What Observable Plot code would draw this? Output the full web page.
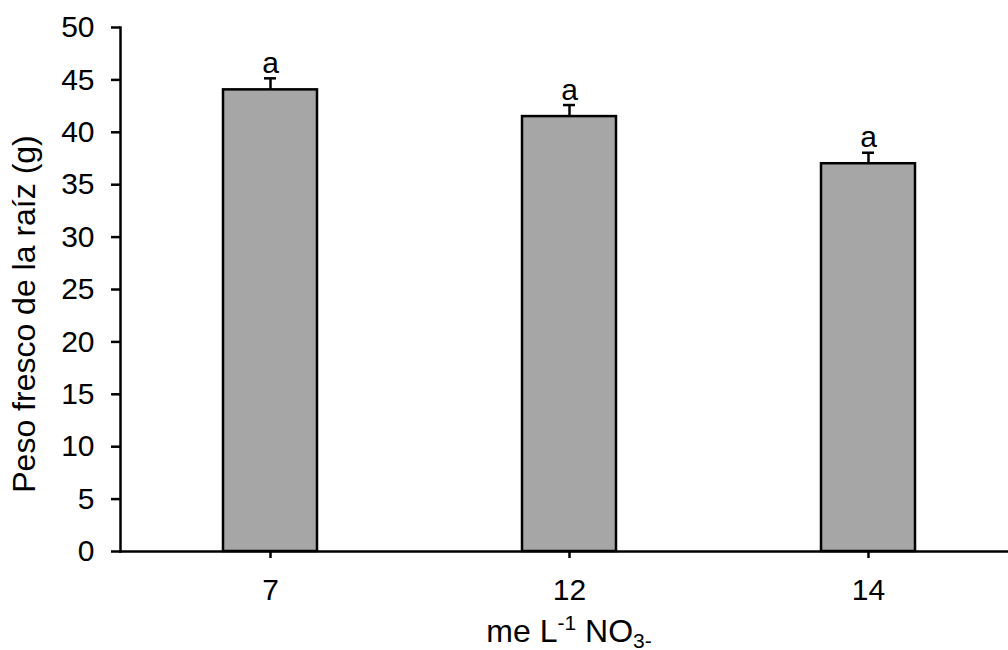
<!DOCTYPE html>
<html><head><meta charset="utf-8">
<script src="https://cdn.jsdelivr.net/npm/d3@7"></script>
<script src="https://cdn.jsdelivr.net/npm/@observablehq/plot@0.6"></script>
<style>body{margin:0;background:#fff;overflow:hidden;} svg{display:block;}</style>
</head><body><div id="chart"></div>
<script>
const categories = ["7", "12", "14"];
const means = [44.05, 41.5, 37.0];
const errors = [1.1, 1.1, 1.05];
const letters = ["a", "a", "a"];
const yTicks = [0, 5, 10, 15, 20, 25, 30, 35, 40, 45, 50];

const data = categories.map((c, i) => ({dose: c, mean: means[i], top: means[i] + errors[i], letter: letters[i]}));
const FONT = "'Liberation Sans', Arial, sans-serif";
const FS = 30;
const TFS = 32;

const plot = Plot.plot({
  width: 1008, height: 650,
  marginLeft: 120, marginRight: -10, marginTop: 27, marginBottom: 99,
  style: {fontFamily: FONT, fontSize: FS + "px", color: "#000", background: "#fff", overflow: "visible"},
  x: {domain: categories, paddingInner: 0.686, paddingOuter: 0.343, label: null},
  y: {domain: [0, 50], label: null},
  marks: [
    Plot.barY(data, {x: "dose", y: "mean", fill: "#a6a6a6", stroke: "#000", strokeWidth: 2.5}),
    Plot.ruleX(data, {x: "dose", y1: "mean", y2: "top", stroke: "#000", strokeWidth: 2.5}),
    Plot.tickY(data, {x: "dose", y: "top", stroke: "#000", strokeWidth: 2.5, insetLeft: 41, insetRight: 41}),
    Plot.text(data, {x: "dose", y: "top", text: "letter", dy: -15, fontSize: FS, fill: "#000"}),
    Plot.axisY({ticks: yTicks, tickSize: 9, tickPadding: 17, strokeWidth: 2.5, fontSize: FS, label: null}),
    Plot.axisX({tickSize: 7, tickPadding: 20, strokeWidth: 2.5, fontSize: FS, label: null}),
    Plot.frame({anchor: "left", stroke: "#000", strokeWidth: 2.5}),
    Plot.frame({anchor: "bottom", stroke: "#000", strokeWidth: 2.5})
  ]
});

const svg = d3.select(plot);
// y-axis title
svg.append("text")
  .attr("transform", `translate(35,314) rotate(-90)`)
  .attr("text-anchor", "middle")
  .attr("font-family", FONT).attr("font-size", TFS).attr("fill", "#000")
  .text("Peso fresco de la raíz (g)");
// x-axis title with super/subscript
const xs = plot.scale("x");
const cx = (xs.range[0] + xs.range[1]) / 2;
const t = svg.append("text")
  .attr("x", cx).attr("y", 642)
  .attr("text-anchor", "middle")
  .attr("font-family", FONT).attr("font-size", TFS).attr("fill", "#000");
t.append("tspan").text("me L");
t.append("tspan").attr("dy", -12).attr("font-size", 21).text("-1");
t.append("tspan").attr("dy", 12).text(" NO");
t.append("tspan").attr("dy", 6).attr("font-size", 21).text("3-");

document.getElementById("chart").appendChild(plot);
</script>
</body></html>
